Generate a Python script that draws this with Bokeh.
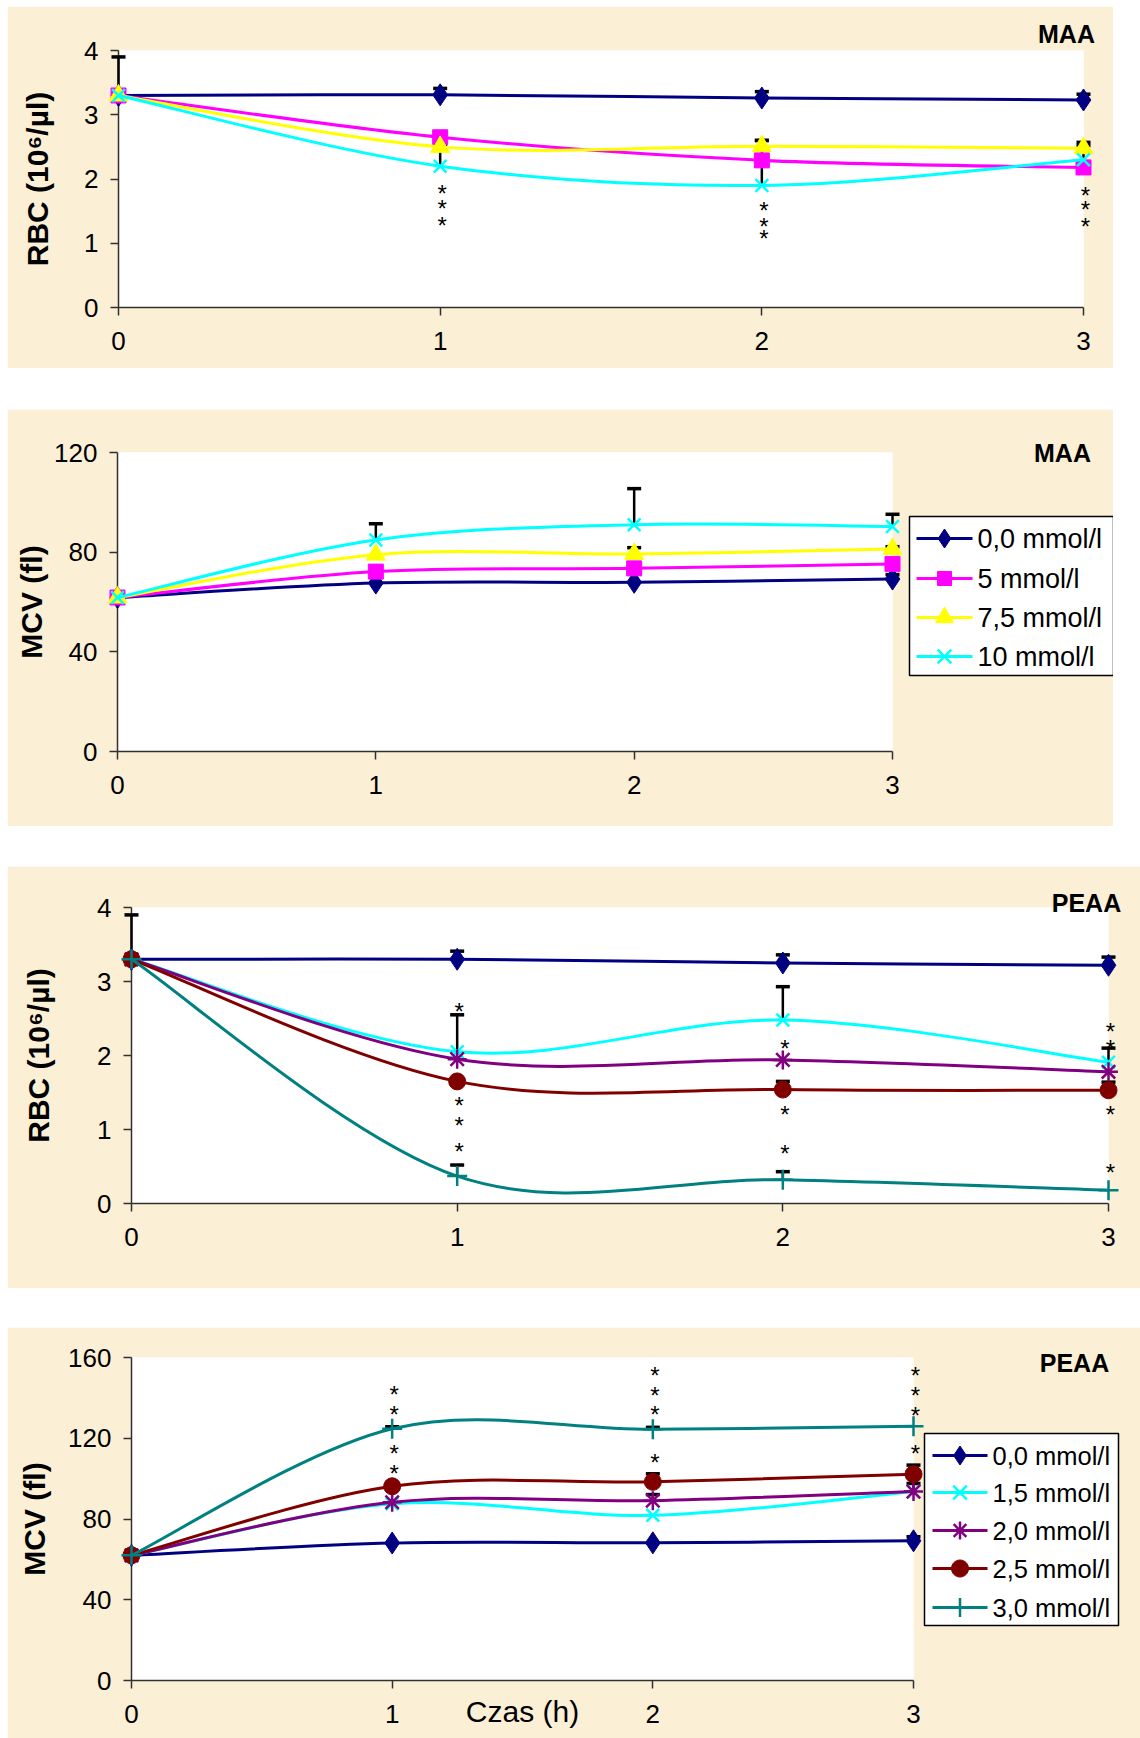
import math

from bokeh.plotting import figure
from bokeh.models import Range1d, FixedTicker, Spacer
from bokeh.layouts import column, row
from bokeh.embed import file_html
from bokeh.resources import INLINE
from bokeh.core.properties import value

FONT = "Liberation Sans"
PAPER = "#FBEFD6"

times = [0, 1, 2, 3]

# ---- MAA: RBC (10^6/µl) ----
maa_labels = ["0,0 mmol/l", "5 mmol/l", "7,5 mmol/l", "10 mmol/l"]
rbc_maa_00 = [3.30, 3.31, 3.26, 3.23]
rbc_maa_50 = [3.30, 2.65, 2.29, 2.18]
rbc_maa_75 = [3.30, 2.50, 2.51, 2.48]
rbc_maa_10 = [3.30, 2.20, 1.90, 2.30]
rbc_maa_sd_00 = [0.60, 0.10, 0.10, 0.09]
rbc_maa_sd_50 = [None, 0.08, None, None]
rbc_maa_sd_75 = [None, None, 0.09, 0.09]
rbc_maa_sd_10 = [None, 0.33, 0.70, 0.22]
rbc_maa_stars = {1: [1.87, 1.63, 1.37], 2: [1.60, 1.35, 1.17], 3: [1.83, 1.62, 1.35]}

# ---- MAA: MCV (fl) ----
mcv_maa_00 = [61.8, 67.6, 67.9, 69.2]
mcv_maa_50 = [61.8, 72.2, 73.5, 75.3]
mcv_maa_75 = [61.8, 79.0, 79.3, 81.3]
mcv_maa_10 = [61.8, 84.9, 91.0, 90.3]
mcv_maa_sd_00 = [None, None, None, 1.8]
mcv_maa_sd_50 = [None, None, None, None]
mcv_maa_sd_75 = [None, None, 2.5, 0.9]
mcv_maa_sd_10 = [None, 6.5, 14.5, 4.9]

# ---- PEAA: RBC (10^6/µl) ----
peaa_labels = ["0,0 mmol/l", "1,5 mmol/l", "2,0 mmol/l", "2,5 mmol/l", "3,0 mmol/l"]
rbc_peaa_00 = [3.30, 3.30, 3.25, 3.22]
rbc_peaa_15 = [3.30, 2.05, 2.48, 1.91]
rbc_peaa_20 = [3.30, 1.95, 1.94, 1.78]
rbc_peaa_25 = [3.30, 1.65, 1.54, 1.53]
rbc_peaa_30 = [3.30, 0.37, 0.32, 0.18]
rbc_peaa_sd_00 = [0.60, 0.11, 0.11, 0.11]
rbc_peaa_sd_15 = [None, 0.50, 0.45, 0.19]
rbc_peaa_sd_20 = [None, None, None, None]
rbc_peaa_sd_25 = [None, 0.03, 0.11, 0.11]
rbc_peaa_sd_30 = [None, 0.15, 0.11, None]
rbc_peaa_stars = {1: [2.67, 1.41, 1.14, 0.78], 2: [2.18, 1.28, 0.76], 3: [2.40, 2.18, 1.28, 0.50]}

# ---- PEAA: MCV (fl) ----
mcv_peaa_00 = [62.0, 68.1, 68.2, 69.2]
mcv_peaa_15 = [62.0, 87.5, 81.8, 93.6]
mcv_peaa_20 = [62.0, 88.3, 89.1, 93.6]
mcv_peaa_25 = [62.0, 96.2, 98.4, 102.2]
mcv_peaa_30 = [62.0, 124.7, 124.4, 126.0]
mcv_peaa_sd_00 = [None, None, None, 2.0]
mcv_peaa_sd_15 = [None, None, None, None]
mcv_peaa_sd_20 = [None, None, 3.0, 4.0]
mcv_peaa_sd_25 = [None, 1.7, 4.0, 4.5]
mcv_peaa_sd_30 = [None, 1.0, 1.0, None]
mcv_peaa_stars = {1: [144.6, 134.7, 115.6, 105.7], 2: [154.2, 144.3, 134.7, 110.8],
                  3: [154.2, 144.3, 134.4, 115.3]}

# marker style per concentration (size: plot marker, key: symbol in the key box)
NAVY = dict(color="#000080", marker="diamond", size=22, key=19)
MAGENTA = dict(color="#FF00FF", marker="square", size=15, key=14)
YELLOW = dict(color="#FFFF00", marker="triangle", size=19, key=18)
CYAN = dict(color="#00FFFF", marker="x", size=18, key=17)
PURPLE = dict(color="#800080", marker="asterisk", size=19, key=18)
DARKRED = dict(color="#800000", marker="circle", size=17, key=17)
TEAL = dict(color="#008080", marker="cross", size=20, key=19)
STROKED = ("x", "asterisk", "cross")


def smooth_segments(xs, ys):
    """Cubic Bezier pieces (Catmull-Rom style) through the measured points."""
    n = len(xs)
    seg = {k: [] for k in ("x0", "y0", "x1", "y1", "cx0", "cy0", "cx1", "cy1")}
    for i in range(n - 1):
        xp, yp = (xs[i - 1], ys[i - 1]) if i > 0 else (xs[i], ys[i])
        xn, yn = (xs[i + 2], ys[i + 2]) if i + 2 < n else (xs[i + 1], ys[i + 1])
        seg["x0"].append(xs[i]); seg["y0"].append(ys[i])
        seg["x1"].append(xs[i + 1]); seg["y1"].append(ys[i + 1])
        seg["cx0"].append(xs[i] + (xs[i + 1] - xp) / 6)
        seg["cy0"].append(ys[i] + (ys[i + 1] - yp) / 6)
        seg["cx1"].append(xs[i + 1] - (xn - xs[i]) / 6)
        seg["cy1"].append(ys[i + 1] - (yn - ys[i]) / 6)
    return seg


def key_symbol(marker, size):
    """Outline (filled polygon) or strokes of a key symbol, in pixels around its centre."""
    r = size / 2
    if marker == "diamond":
        return [(0, -r), (r / 1.5, 0), (0, r), (-r / 1.5, 0)], []
    if marker == "square":
        return [(-r, -r), (r, -r), (r, r), (-r, r)], []
    if marker == "triangle":
        h = r * math.sqrt(3)
        a = h / 3
        return [(-r, a), (r, a), (0, a - h)], []
    if marker == "circle":
        return [(r * math.cos(2 * math.pi * k / 32), r * math.sin(2 * math.pi * k / 32))
                for k in range(32)], []
    if marker == "x":
        q = r * 0.8
        return None, [((-q, -q), (q, q)), ((-q, q), (q, -q))]
    if marker == "cross":
        return None, [((0, -r), (0, r)), ((-r, 0), (r, 0))]
    q = r * 0.7
    return None, [((0, -r), (0, r)), ((-r, 0), (r, 0)), ((-q, -q), (q, q)), ((-q, q), (q, -q))]


def panel(width, height, borders, ymax, yticks, ylabel, ylabel_standoff,
          series, stars, tag, tag_offset, legend_box=None, xlabel=None):
    left, right, top, bottom = borders
    frame_w = width - left - right
    frame_h = height - top - bottom

    # pixel offsets from the frame's top-left corner -> data coordinates
    def dx(px):
        return px / frame_w * 3

    def dy(px):
        return ymax - px / frame_h * ymax

    p = figure(width=width, height=height, x_range=Range1d(0, 3), y_range=Range1d(0, ymax),
               output_backend="svg", toolbar_location=None, tools="",
               min_border_left=left, min_border_right=right,
               min_border_top=top, min_border_bottom=bottom)
    p.border_fill_color = PAPER
    p.background_fill_color = "white"
    p.outline_line_color = None
    p.grid.visible = False

    for ax in (p.xaxis[0], p.yaxis[0]):
        ax.axis_line_color = "#303030"
        ax.axis_line_width = 1.5
        ax.major_tick_line_color = "#303030"
        ax.major_tick_line_width = 1.5
        ax.major_tick_in = 0
        ax.major_tick_out = 8
        ax.minor_tick_line_color = None
        ax.major_label_text_font = FONT
        ax.major_label_text_font_size = "26px"
        ax.major_label_text_color = "black"
    p.xaxis.ticker = FixedTicker(ticks=times)
    p.yaxis.ticker = FixedTicker(ticks=yticks)
    p.xaxis.major_label_standoff = 16
    p.yaxis.major_label_standoff = 12

    p.yaxis.axis_label = ylabel
    p.yaxis.axis_label_text_font = FONT
    p.yaxis.axis_label_text_font_style = "bold"
    p.yaxis.axis_label_text_font_size = "30px"
    p.yaxis.axis_label_text_color = "black"
    p.yaxis.axis_label_standoff = ylabel_standoff
    if xlabel:
        p.xaxis.axis_label = xlabel
        p.xaxis.axis_label_text_font = FONT
        p.xaxis.axis_label_text_font_style = "normal"
        p.xaxis.axis_label_text_font_size = "30px"
        p.xaxis.axis_label_text_color = "black"
        p.xaxis.axis_label_standoff = -31

    # error bars (upper half only)
    for label, ys, sd, style in series:
        ex = [t for t, s in zip(times, sd) if s is not None]
        lo = [y for y, s in zip(ys, sd) if s is not None]
        hi = [y + s for y, s in zip(ys, sd) if s is not None]
        if ex:
            p.segment(x0=ex, y0=lo, x1=ex, y1=hi, line_color="black", line_width=2.5, level="overlay")
            p.scatter(x=ex, y=hi, marker="dash", size=14, line_color="black", line_width=3.5,
                      level="overlay")

    for label, ys, sd, style in series:
        seg = smooth_segments(times, ys)
        p.bezier(source=seg, x0="x0", y0="y0", x1="x1", y1="y1",
                 cx0="cx0", cy0="cy0", cx1="cx1", cy1="cy1",
                 line_color=style["color"], line_width=3, level="overlay")
        lw = 2.5 if style["marker"] in STROKED else 1
        p.scatter(x=times, y=ys, marker=style["marker"], size=style["size"],
                  fill_color=style["color"], line_color=style["color"],
                  line_width=lw, level="overlay")

    for t, ylist in stars.items():
        p.text(x=[t] * len(ylist), y=ylist, text=["*"] * len(ylist),
               text_font=value(FONT), text_font_size="24px", text_color="black",
               text_align="center", text_baseline="middle", x_offset=2, y_offset=6,
               level="overlay")

    # panel tag in the upper right corner
    p.text(x=[dx(tag_offset[0])], y=[dy(-tag_offset[1])], text=[tag], text_font=value(FONT),
           text_font_style="bold", text_font_size="25px", text_color="black",
           text_align="center", text_baseline="middle", level="overlay")

    # key box beside the plot area
    if legend_box is not None:
        bx0, bx1, by0, by1, rows, gx0, gx1, tx, fsize = legend_box
        p.quad(left=[dx(bx0)], right=[dx(bx1)], top=[dy(by0)], bottom=[dy(by1)],
               fill_color="white", line_color="black", line_width=1.5, level="overlay")
        gc = (gx0 + gx1) / 2
        for (label, ys, sd, style), ry in zip(series, rows):
            color = style["color"]
            p.segment(x0=[dx(gx0)], y0=[dy(ry)], x1=[dx(gx1)], y1=[dy(ry)],
                      line_color=color, line_width=3, level="overlay")
            outline, strokes = key_symbol(style["marker"], style["key"])
            if outline:
                p.patch(x=[dx(gc + u) for u, v in outline], y=[dy(ry + v) for u, v in outline],
                        fill_color=color, line_color=color, line_width=1, level="overlay")
            for (u0, v0), (u1, v1) in strokes:
                p.segment(x0=[dx(gc + u0)], y0=[dy(ry + v0)], x1=[dx(gc + u1)], y1=[dy(ry + v1)],
                          line_color=color, line_width=2.5, level="overlay")
            p.text(x=[dx(tx)], y=[dy(ry)], text=[label], text_font=value(FONT),
                   text_font_size=fsize, text_color="black", text_align="left",
                   text_baseline="middle", level="overlay")
    return p


p1 = panel(1106, 362, (111, 30, 44, 61), 4, [0, 1, 2, 3, 4], "RBC (10⁶/µl)", 27,
           [(maa_labels[0], rbc_maa_00, rbc_maa_sd_00, NAVY),
            (maa_labels[1], rbc_maa_50, rbc_maa_sd_50, MAGENTA),
            (maa_labels[2], rbc_maa_75, rbc_maa_sd_75, YELLOW),
            (maa_labels[3], rbc_maa_10, rbc_maa_sd_10, CYAN)],
           rbc_maa_stars, "MAA", (948, 17))

p2 = panel(1106, 417, (110, 221, 43, 75), 120, [0, 40, 80, 120], "MCV (fl)", 3,
           [(maa_labels[0], mcv_maa_00, mcv_maa_sd_00, NAVY),
            (maa_labels[1], mcv_maa_50, mcv_maa_sd_50, MAGENTA),
            (maa_labels[2], mcv_maa_75, mcv_maa_sd_75, YELLOW),
            (maa_labels[3], mcv_maa_10, mcv_maa_sd_10, CYAN)],
           {}, "MAA", (945, 0),
           legend_box=(792, 996, 64, 223, [86, 126, 165, 204], 799, 855, 860, "27px"))

p3 = panel(1133, 422, (124, 32, 41, 85), 4, [0, 1, 2, 3, 4], "RBC (10⁶/µl)", 39,
           [(peaa_labels[0], rbc_peaa_00, rbc_peaa_sd_00, NAVY),
            (peaa_labels[1], rbc_peaa_15, rbc_peaa_sd_15, CYAN),
            (peaa_labels[2], rbc_peaa_20, rbc_peaa_sd_20, PURPLE),
            (peaa_labels[3], rbc_peaa_25, rbc_peaa_sd_25, DARKRED),
            (peaa_labels[4], rbc_peaa_30, rbc_peaa_sd_30, TEAL)],
           rbc_peaa_stars, "PEAA", (955, 5))

p4 = panel(1133, 411, (124, 227, 30, 58), 160, [0, 40, 80, 120, 160], "MCV (fl)", 14,
           [(peaa_labels[0], mcv_peaa_00, mcv_peaa_sd_00, NAVY),
            (peaa_labels[1], mcv_peaa_15, mcv_peaa_sd_15, CYAN),
            (peaa_labels[2], mcv_peaa_20, mcv_peaa_sd_20, PURPLE),
            (peaa_labels[3], mcv_peaa_25, mcv_peaa_sd_25, DARKRED),
            (peaa_labels[4], mcv_peaa_30, mcv_peaa_sd_30, TEAL)],
           mcv_peaa_stars, "PEAA", (943, -5),
           legend_box=(793, 987, 76, 268, [98, 135, 173, 211, 250], 801, 856, 861, "25.5px"),
           xlabel="Czas (h)")

page = column(
    Spacer(width=10, height=6),
    row(Spacer(width=7, height=10), p1),
    Spacer(width=10, height=41),
    row(Spacer(width=7, height=10), p2),
    Spacer(width=10, height=40),
    row(Spacer(width=7, height=10), p3),
    Spacer(width=10, height=39),
    row(Spacer(width=7, height=10), p4),
)

open("out.html", "w").write(file_html(page, INLINE))
